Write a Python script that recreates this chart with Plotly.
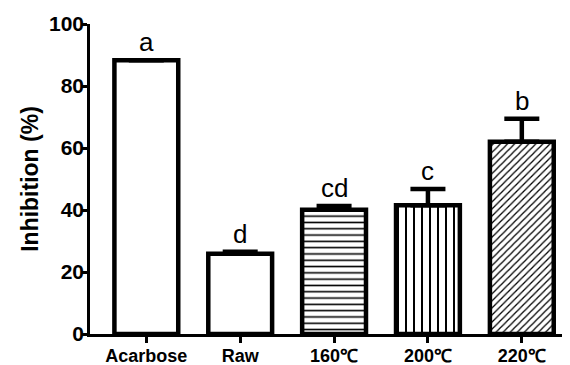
import plotly.graph_objects as go

categories = ["Acarbose", "Raw", "160℃", "200℃", "220℃"]
values = [88.3, 25.9, 40.1, 41.5, 62.0]
errors = [None, 0.6, 1.2, 5.3, 7.4]
letters = ["a", "d", "cd", "c", "b"]
patterns = ["", "", "-", "|", "/"]
pattern_sizes = [8, 8, 6.3, 8, 5]
y_ticks = [0, 20, 40, 60, 80, 100]

FONT = "Liberation Sans, Arial, sans-serif"

fig = go.Figure()
fig.add_trace(go.Bar(
    x=categories,
    y=values,
    width=0.68,
    marker=dict(
        color="white",
        line=dict(color="black", width=4.5),
        pattern=dict(shape=patterns, fgcolor="black", bgcolor="white",
                     fgopacity=1, size=pattern_sizes, solidity=0.25,
                     fillmode="overlay"),
    ),
    error_y=dict(type="data", symmetric=False, array=errors,
                 arrayminus=[0] * len(errors),
                 color="black", thickness=4.5, width=17.5),
    showlegend=False,
))

for c, v, e, t in zip(categories, values, errors, letters):
    fig.add_annotation(x=c, y=v + (e or 0), text=t, showarrow=False,
                       yanchor="bottom", yshift=1,
                       font=dict(family=FONT, size=26, color="black"))

# the page body adds an 8px offset, so the figure is sized 8px smaller
fig.update_layout(
    width=562, height=357,
    margin=dict(l=82, r=5, t=16, b=31, autoexpand=False),
    plot_bgcolor="white", paper_bgcolor="white",
    bargap=0.3,
)
fig.update_xaxes(
    range=[-0.6, 4.46], automargin=False,
    showline=True, linecolor="black", linewidth=2.5,
    ticks="outside", ticklen=6, tickwidth=2.5, tickcolor="black",
    tickfont=dict(family=FONT, size=18, color="black", weight="bold"),
    ticklabelstandoff=-2,
    showgrid=False, zeroline=False,
)
fig.update_yaxes(
    range=[0, 100], tickvals=y_ticks, automargin=False,
    showline=True, linecolor="black", linewidth=2.5,
    ticks="outside", ticklen=5, tickwidth=2.5, tickcolor="black",
    tickfont=dict(family=FONT, size=21, color="black", weight="bold"),
    ticklabelstandoff=-6,
    showgrid=False, zeroline=False,
    title=dict(text="Inhibition (%)", standoff=4,
               font=dict(family=FONT, size=23, color="black", weight="bold")),
)

fig.write_html("out.html")
